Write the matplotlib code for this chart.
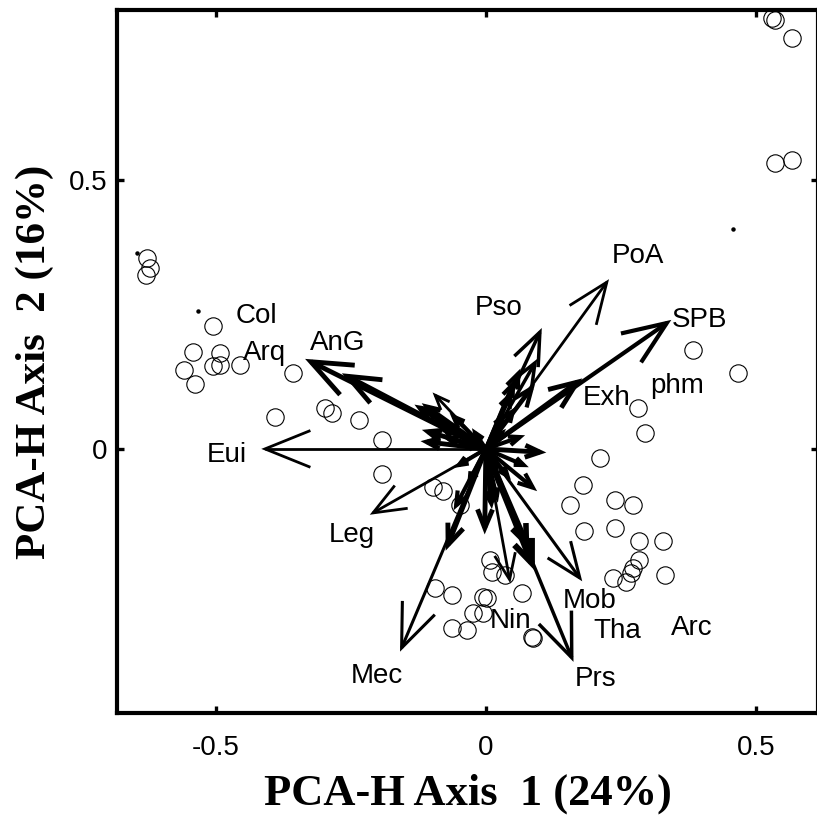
import numpy as np
import matplotlib
matplotlib.use("Agg")
import matplotlib.pyplot as plt

# ---- site scores (open circles) ----
site_x = [-0.628, -0.622, -0.630,
          -0.506, -0.543, -0.493, -0.559, -0.539, -0.506, -0.493, -0.456, -0.357,
          -0.391, -0.298, -0.285, -0.235, -0.193, -0.193, -0.098, -0.080, -0.048,
          0.007, 0.011, 0.035, -0.094, -0.063, -0.006, 0.002, 0.067, -0.024, -0.006,
          -0.063, -0.035, 0.085, 0.087,
          0.281, 0.294, 0.211, 0.180, 0.156, 0.239, 0.272, 0.181, 0.239, 0.283,
          0.328, 0.283, 0.272, 0.269, 0.259, 0.235, 0.331,
          0.383, 0.467,
          0.530, 0.535, 0.567, 0.535, 0.567]
site_y = [0.355, 0.336, 0.323,
          0.229, 0.180, 0.178, 0.147, 0.121, 0.154, 0.156, 0.156, 0.141,
          0.059, 0.076, 0.067, 0.054, 0.017, -0.046, -0.071, -0.078, -0.104,
          -0.206, -0.229, -0.234, -0.258, -0.271, -0.275, -0.277, -0.268, -0.305, -0.305,
          -0.333, -0.336, -0.349, -0.352,
          0.076, 0.030, -0.017, -0.067, -0.104, -0.095, -0.104, -0.152, -0.147, -0.171,
          -0.171, -0.206, -0.221, -0.230, -0.247, -0.240, -0.234,
          0.184, 0.141,
          0.801, 0.797, 0.764, 0.532, 0.537]

# small point markers
dot_x = [-0.646, -0.533, 0.457]
dot_y = [0.364, 0.257, 0.409]

# ---- variable loadings (arrow tips) ----
vec_x = [-0.409, -0.324, -0.256, -0.209, -0.156, -0.070, -0.055, -0.002,
         0.044, 0.085, 0.075, 0.159, 0.174, 0.100, 0.087, 0.169, 0.335,
         0.224, 0.100, 0.091, 0.085, 0.063, -0.094, -0.122, -0.109, -0.107,
         -0.109, -0.090, 0.030, 0.020,
         -0.080, -0.070, -0.060, -0.050, 0.040, 0.030, 0.050, -0.030,
         0.010, 0.045, 0.060, 0.050, -0.040, 0.020, -0.020, 0.070]
vec_y = [0.000, 0.162, 0.135, -0.119, -0.370, -0.178, -0.105, -0.147,
         -0.243, -0.212, -0.175, -0.388, -0.240, -0.006, -0.072, 0.124, 0.234,
         0.310, 0.217, 0.160, 0.113, 0.022, 0.100, 0.076, 0.078, 0.032,
         0.013, 0.050, 0.060, -0.090,
         0.040, 0.020, 0.060, -0.030, -0.050, 0.030, 0.070, -0.060,
         -0.100, 0.100, 0.140, 0.120, 0.010, -0.040, 0.030, -0.030]
# line width (pt) and arrow-head barb length (px) of each vector
vec_lw = [2.0, 3.5, 3.5, 2.0, 2.2, 3.5, 3.0, 3.5,
          2.0, 4.5, 4.0, 2.5, 2.2, 3.5, 3.0, 3.5, 3.0,
          2.0, 2.5, 2.5, 3.0, 3.0, 2.0, 3.5, 3.5, 3.5,
          3.5, 3.0, 3.0, 3.0,
          3.5, 3.5, 3.0, 3.0, 3.0, 3.0, 3.0, 3.0,
          3.5, 3.0, 3.0, 3.0, 3.5, 3.0, 3.0, 3.0]
vec_head = [49, 44, 35, 35, 47, 22, 15, 20,
            28, 25, 20, 47, 38, 16, 16, 30, 47,
            44, 35, 25, 20, 12, 16, 14, 14, 14,
            14, 12, 10, 10,
            12, 10, 12, 10, 10, 10, 12, 10,
            12, 14, 16, 14, 10, 10, 10, 10]

# ---- variable names ----
lab_text = ["Col", "Arq", "AnG", "Eui", "Leg", "Mec", "Nin", "Mob", "Tha",
            "Arc", "Prs", "Exh", "phm", "SPB", "PoA", "Pso"]
lab_x = [-0.424, -0.409, -0.274, -0.479, -0.248, -0.202, 0.046, 0.193, 0.244,
         0.381, 0.204, 0.224, 0.354, 0.396, 0.281, 0.024]
lab_y = [0.234, 0.165, 0.184, -0.024, -0.173, -0.435, -0.333, -0.296, -0.351,
         -0.346, -0.441, 0.082, 0.104, 0.227, 0.346, 0.249]

xticks = [-0.5, 0, 0.5]
yticks = [0, 0.5]
xlim = (-0.683, 0.615)
ylim = (-0.491, 0.816)

fig = plt.figure(figsize=(8.17, 8.15), dpi=100)
ax = fig.add_axes([117 / 817, 102 / 815, 701 / 817, 703 / 815])
ax.set_xlim(*xlim)
ax.set_ylim(*ylim)

ax.plot(site_x, site_y, linestyle="none", marker="o", markersize=12.5,
        markerfacecolor="none", markeredgecolor="black", markeredgewidth=0.8,
        zorder=2)
ax.plot(dot_x, dot_y, linestyle="none", marker="o", markersize=2.2,
        color="black", zorder=2)

# arrows: shaft from origin plus two open barbs, built in display space
to_px = ax.transData
to_data = ax.transData.inverted()
origin_px = to_px.transform((0.0, 0.0))
half_angle = np.deg2rad(22)
for x, y, lw, hl in zip(vec_x, vec_y, vec_lw, vec_head):
    tip_px = to_px.transform((x, y))
    d = origin_px - tip_px
    d = d / np.hypot(*d)
    barbs = []
    for s in (1, -1):
        c, sn = np.cos(s * half_angle), np.sin(s * half_angle)
        r = np.array([c * d[0] - sn * d[1], sn * d[0] + c * d[1]])
        barbs.append(to_data.transform(tip_px + hl * r))
    ax.plot([0, x], [0, y], color="black", lw=lw, solid_capstyle="butt",
            zorder=3)
    ax.plot([barbs[0][0], x, barbs[1][0]], [barbs[0][1], y, barbs[1][1]],
            color="black", lw=lw, solid_joinstyle="miter",
            solid_capstyle="butt", zorder=3)

for t, x, y in zip(lab_text, lab_x, lab_y):
    ax.text(x, y, t, ha="center", va="baseline", fontsize=20,
            family="Liberation Sans", color="black", zorder=4)

ax.set_xticks(xticks)
ax.set_yticks(yticks)
ax.set_xticklabels(["-0.5", "0", "0.5"])
ax.set_yticklabels(["0", "0.5"])
ax.tick_params(axis="both", direction="in", length=5, width=2.4,
               top=True, right=True, labelsize=20)
ax.tick_params(axis="x", pad=16)
ax.tick_params(axis="y", pad=7)
for lbl in ax.get_xticklabels() + ax.get_yticklabels():
    lbl.set_family("Liberation Sans")
for sp in ax.spines.values():
    sp.set_linewidth(3.0)

ax.set_xlabel("PCA-H Axis  1 (24%)", family="Liberation Serif",
              fontweight="bold", fontsize=32, va="baseline")
ax.xaxis.set_label_coords(0.5, (713 - 805) / 703)
ax.set_ylabel("PCA-H Axis  2 (16%)", family="Liberation Serif",
              fontweight="bold", fontsize=31, va="baseline")
ax.yaxis.set_label_coords((45 - 117) / 701, 0.5)

fig.savefig("out.png", dpi=100)
